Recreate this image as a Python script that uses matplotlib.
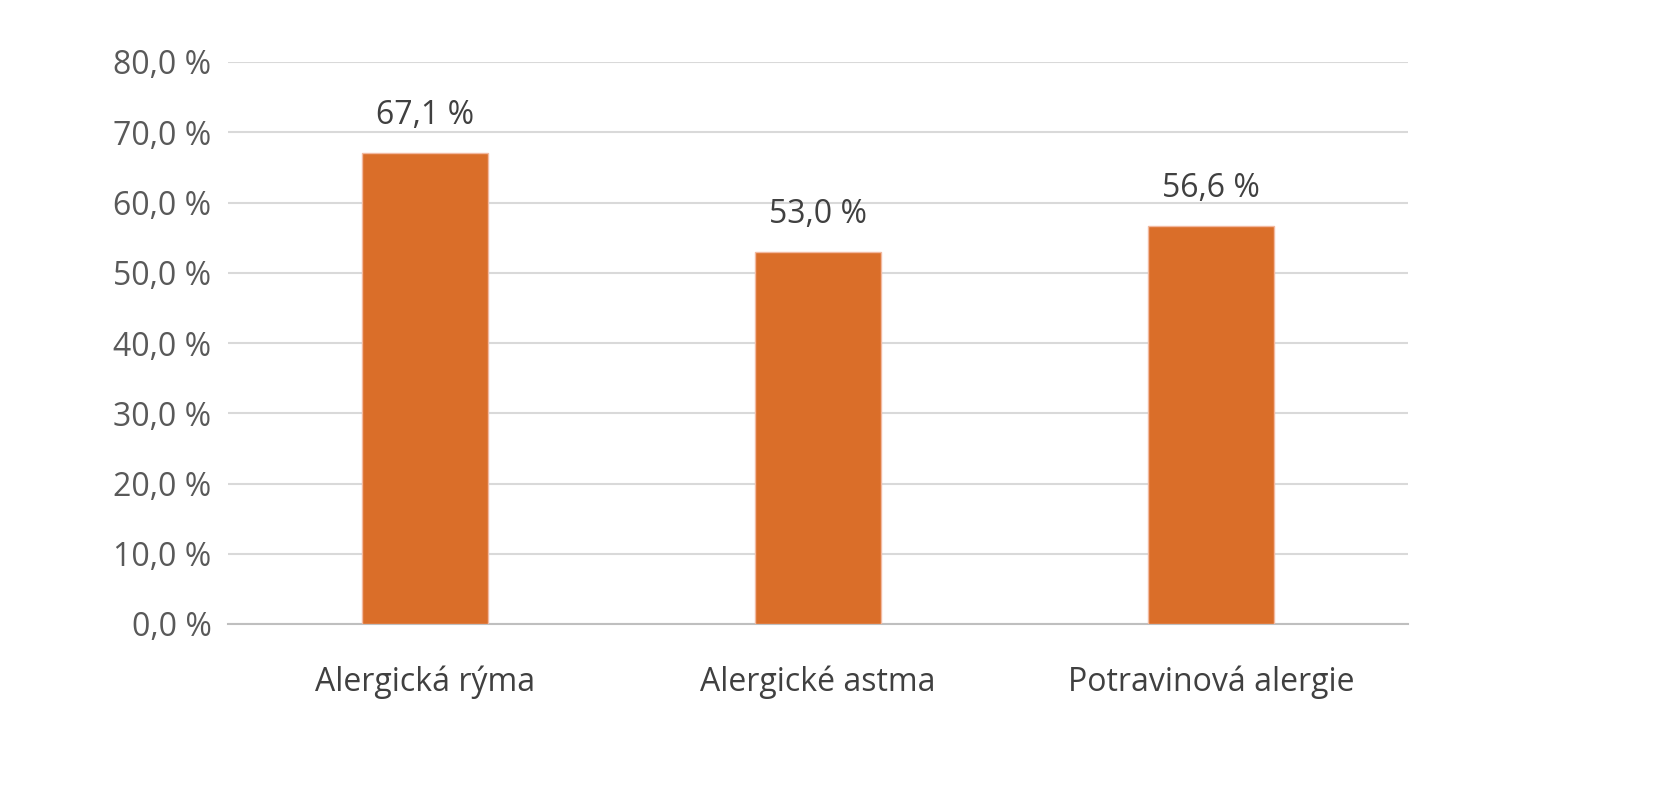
import matplotlib
matplotlib.use("Agg")
import matplotlib.pyplot as plt

categories = ["Alergická rýma", "Alergické astma", "Potravinová alergie"]
values = [67.1, 53.0, 56.6]
yticks = [0, 10, 20, 30, 40, 50, 60, 70, 80]

plt.rcParams['font.family'] = ['Open Sans', 'DejaVu Sans']
fig = plt.figure(figsize=(16.65, 8), dpi=100)
ax = fig.add_axes([0.137, 0.22, 0.7087, 0.7025])
x = range(len(categories))
ax.bar(x, values, width=0.32, color="#DA6E29", edgecolor="#F2B9A0", linewidth=1, zorder=3)
for xi, v in zip(x, values):
    ax.text(xi, v + 3, f"{v:.1f} %".replace(".", ","), ha="center", va="bottom",
            fontsize=23, color="#404040")
ax.set_xlim(-0.5, 2.5)
ax.set_ylim(0, 80)
ax.set_yticks(yticks)
ax.set_yticklabels([f"{t:.1f} %".replace(".", ",") for t in yticks], fontsize=23, color="#595959")
ax.set_xticks(list(x))
ax.set_xticklabels(categories, fontsize=23, color="#404040")
ax.grid(axis="y", color="#D9D9D9", linewidth=1.5, zorder=0)
for s in ["top", "right", "left"]:
    ax.spines[s].set_visible(False)
ax.spines["bottom"].set_color("#BFBFBF")
ax.spines["bottom"].set_linewidth(1.5)
ax.tick_params(length=0, pad=12)
ax.tick_params(axis="x", pad=30)
fig.savefig("out.png", dpi=100, facecolor="white")
